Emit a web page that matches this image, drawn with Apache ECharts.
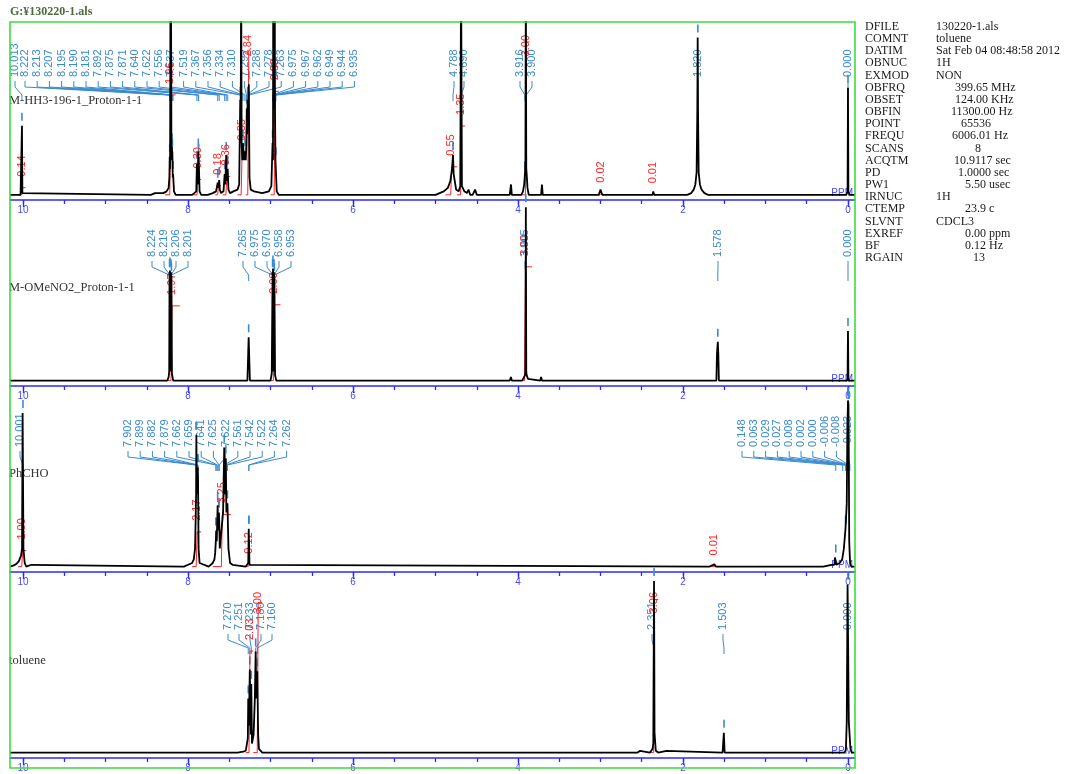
<!DOCTYPE html>
<html><head><meta charset="utf-8">
<script src="https://cdn.jsdelivr.net/npm/echarts@6/dist/echarts.min.js"></script>
<style>html,body{margin:0;padding:0;background:#fff}#c{width:1067px;height:774px}</style>
</head><body><div id="c"></div>
<script>
// ---------------- DATA ----------------
const fileTitle = 'G:¥130220-1.als';
const panelNames = ['M-HH3-196-1_Proton-1-1', 'M-OMeNO2_Proton-1-1', 'PhCHO', 'toluene'];
const majorTicks = [0, 2, 4, 6, 8, 10];
const minorTicks = [0, 0.5, 1, 1.5, 2, 2.5, 3, 3.5, 4, 4.5, 5, 5.5, 6, 6.5, 7, 7.5, 8, 8.5, 9, 9.5, 10];
const axisUnit = 'PPM';

// spectra: [ppm, relative intensity]
const spec1 = [[10.158,0],[10.03,0],[10.018,0.01],[10.013,0.40],[10.008,0.01],[9.99,0],
 [8.45,0],[8.40,0.01],[8.38,0],[8.30,0.01],[8.26,0.02],[8.235,0.04],[8.226,0.1],[8.222,0.22],[8.217,0.15],[8.213,1.3],[8.210,0.4],[8.207,1.3],[8.201,0.2],[8.195,0.28],[8.192,0.2],[8.190,0.25],[8.185,0.1],[8.181,0.12],[8.17,0.02],[8.15,0],
 [7.95,0],[7.90,0.02],[7.892,0.18],[7.885,0.06],[7.875,0.25],[7.873,0.15],[7.871,0.22],[7.86,0.02],[7.84,0],
 [7.76,0],[7.70,0.01],[7.66,0.02],[7.645,0.03],[7.640,0.07],[7.632,0.04],[7.622,0.085],[7.615,0.03],[7.60,0.01],
 [7.57,0.02],[7.556,0.12],[7.548,0.06],[7.537,0.23],[7.528,0.08],[7.519,0.15],[7.51,0.03],[7.49,0.01],[7.45,0.02],[7.40,0.03],
 [7.38,0.06],[7.367,0.55],[7.362,0.3],[7.356,1.3],[7.35,0.3],[7.342,0.2],[7.334,0.3],[7.32,0.2],[7.310,0.25],[7.30,0.2],[7.292,0.3],[7.288,0.5],[7.283,0.35],[7.278,0.55],[7.27,0.4],[7.263,0.64],[7.255,0.1],[7.24,0.03],[7.20,0.02],[7.10,0.01],[7.02,0.02],
 [6.99,0.05],[6.975,0.3],[6.97,0.2],[6.967,1.3],[6.964,0.5],[6.962,1.3],[6.955,0.5],[6.949,1.3],[6.946,0.5],[6.944,0.4],[6.94,0.2],[6.935,0.2],[6.925,0.02],[6.90,0],
 [5.55,0],[5.53,0.01],[5.51,0],[5.0,0],[4.95,0.01],[4.90,0.02],[4.85,0.04],[4.82,0.08],[4.80,0.15],[4.788,0.23],[4.78,0.12],[4.75,0.03],[4.72,0.02],[4.70,0.05],[4.690,1.3],[4.68,0.05],[4.65,0.02],[4.62,0.01],[4.60,0.03],[4.58,0],[4.55,0],[4.52,0.03],[4.50,0],
 [4.10,0],[4.085,0.06],[4.075,0],[3.96,0],[3.94,0.02],[3.925,0.06],[3.916,0.12],[3.91,0.2],[3.905,1.3],[3.90,0.15],[3.895,0.12],[3.885,0.04],[3.87,0],[3.72,0],[3.71,0.06],[3.70,0],
 [3.02,0],[3.0,0.03],[2.98,0],[2.37,0],[2.36,0.02],[2.35,0],
 [1.95,0],[1.90,0.01],[1.87,0.03],[1.85,0.06],[1.835,0.13],[1.826,0.5],[1.822,0.91],[1.818,0.5],[1.81,0.13],[1.795,0.06],[1.775,0.03],[1.74,0.01],[1.70,0],
 [0.02,0],[0.005,0.02],[0.0,0.62],[-0.005,0.02],[-0.02,0],[-0.085,0]];
const spec2 = [[10.158,0],[8.25,0],[8.235,0.02],[8.228,0.05],[8.224,0.6],[8.221,0.2],[8.219,0.61],[8.213,0.05],[8.206,0.6],[8.203,0.2],[8.201,0.58],[8.195,0.04],[8.18,0],
 [7.28,0],[7.265,0.24],[7.25,0],
 [7.0,0],[6.985,0.04],[6.975,0.6],[6.972,0.2],[6.970,0.62],[6.964,0.05],[6.958,0.6],[6.955,0.2],[6.953,0.58],[6.945,0.03],[6.93,0],
 [4.10,0],[4.085,0.02],[4.075,0],[3.95,0],[3.93,0.01],[3.915,0.03],[3.91,0.05],[3.905,0.96],[3.90,0.05],[3.895,0.03],[3.88,0.01],[3.86,0],[3.73,0],[3.72,0.02],[3.71,0],
 [1.595,0],[1.588,0.15],[1.578,0.215],[1.572,0.15],[1.565,0],
 [0.01,0],[0.005,0.02],[0.0,0.275],[-0.005,0.02],[-0.01,0],[-0.085,0]];
const spec3 = [[10.158,0],[10.12,0.005],[10.08,0.015],[10.05,0.03],[10.025,0.06],[10.012,0.1],[10.005,0.85],[10.001,0.85],[9.995,0.1],[9.98,0.02],[9.96,0],[9.9,0.01],[9.88,0],
 [8.05,0],[8.0,0.01],[7.95,0.02],[7.93,0.04],[7.915,0.1],[7.908,0.25],[7.902,0.4],[7.899,0.73],[7.895,0.5],[7.889,0.4],[7.882,0.55],[7.879,0.5],[7.872,0.1],[7.86,0.02],[7.84,0.01],
 [7.75,0],[7.70,0.02],[7.68,0.04],[7.67,0.08],[7.662,0.15],[7.659,0.2],[7.652,0.14],[7.641,0.34],[7.635,0.2],[7.625,0.3],[7.622,0.25],[7.615,0.1],[7.595,0.1],[7.575,0.3],[7.561,0.66],[7.555,0.4],[7.542,0.6],[7.535,0.3],[7.522,0.35],[7.51,0.1],[7.49,0.02],[7.46,0.01],
 [7.30,0],[7.27,0.02],[7.264,0.21],[7.262,0.21],[7.255,0.01],[7.24,0],
 [1.68,0],[1.66,0.01],[1.62,0.012],[1.60,0],
 [0.30,0],[0.20,0.01],[0.165,0.01],[0.158,0.05],[0.148,0.05],[0.14,0.01],[0.10,0.02],[0.07,0.04],[0.05,0.1],[0.03,0.21],[0.015,0.35],[0.008,0.74],[0.0,0.92],[-0.006,0.9],[-0.01,0.6],[-0.015,0.14],[-0.025,0.02],[-0.04,0],[-0.085,0]];
const spec4 = [[10.158,0],[7.40,0],[7.33,0.005],[7.30,0.01],[7.285,0.02],[7.275,0.08],[7.270,0.3],[7.262,0.15],[7.251,0.46],[7.245,0.25],[7.240,0.1],[7.233,0.38],[7.225,0.05],[7.215,0.04],[7.205,0.1],[7.19,0.3],[7.180,0.56],[7.172,0.3],[7.160,0.45],[7.15,0.1],[7.14,0.02],[7.12,0.01],[7.10,0],
 [2.55,0],[2.52,0.01],[2.50,0],[2.40,0],[2.37,0.02],[2.36,0.05],[2.357,0.37],[2.351,0.95],[2.345,0.11],[2.335,0.11],[2.33,0.01],[2.30,0],[2.20,0.01],[2.18,0],
 [1.52,0],[1.505,0.11],[1.495,0],
 [0.64,0],[0.62,0.005],[0.60,0],
 [0.04,0],[0.025,0.02],[0.015,0.17],[0.005,0.93],[-0.003,0.93],[-0.01,0.17],[-0.02,0.17],[-0.03,0.02],[-0.045,0],[-0.085,0]];

// picked peak labels, grouped as in the printout
const peaks1 = [['10.013'],
 ['8.222','8.213','8.207','8.195','8.190','8.181','7.892','7.875','7.871','7.640','7.622','7.556','7.537','7.519','7.367','7.356','7.334','7.310','7.292','7.288','7.278','7.263','6.975','6.967','6.962','6.949','6.944','6.935'],
 ['4.788','4.690'], ['3.916','3.900'], ['1.820'], ['0.000']];
const peaks2 = [['8.224','8.219','8.206','8.201'], ['7.265'], ['6.975','6.970','6.958','6.953'], ['3.905'], ['1.578'], ['0.000']];
const peaks3 = [['10.001'],
 ['7.902','7.899','7.882','7.879','7.662','7.659','7.641','7.625','7.622','7.561','7.542','7.522','7.264','7.262'],
 ['0.148','0.063','0.029','0.027','0.008','0.002','0.000','-0.006','-0.008','-0.023']];
const peaks4 = [['7.270','7.251','7.233','7.180','7.160'], ['2.351'], ['1.503'], ['0.000']];

// integrals: [from ppm, to ppm, value]
const integ1 = [[10.05,9.97,0.14],[8.28,8.15,1.96],[7.93,7.84,0.30],[7.67,7.60,0.18],[7.58,7.49,0.36],[7.40,7.30,0.85],[7.30,7.24,2.84],[7.00,6.90,2.03],[4.88,4.74,0.55],[4.74,4.64,1.35],[3.95,3.86,3.00],[3.03,2.97,0.02],[2.39,2.33,0.01]];
const integ2 = [[8.30,8.10,1.97],[7.04,6.88,2.00],[4.00,3.83,3.00]];
const integ3 = [[10.06,9.96,1.00],[7.95,7.84,2.17],[7.70,7.48,3.25],[7.30,7.23,0.12],[1.66,1.58,0.01]];
const integ4 = [[7.30,7.21,2.03],[7.21,7.10,3.00],[2.40,2.30,3.06]];

const paramKeys = ['DFILE','COMNT','DATIM','OBNUC','EXMOD','OBFRQ','OBSET','OBFIN','POINT','FREQU','SCANS','ACQTM','PD','PW1','IRNUC','CTEMP','SLVNT','EXREF','BF','RGAIN'];
const paramVals = ['130220-1.als','toluene','Sat Feb 04 08:48:58 2012','1H','NON','399.65 MHz','124.00 KHz','11300.00 Hz','65536','6006.01 Hz','8','10.9117 sec','1.0000 sec','5.50 usec','1H','23.9 c','CDCL3','0.00 ppm','0.12 Hz','13'];

// ---------------- LAYOUT / STYLE ----------------
const SPECS = [spec1, spec2, spec3, spec4];
const PEAKS = [peaks1, peaks2, peaks3, peaks4];
const INTEGS = [integ1, integ2, integ3, integ4];
const X_MIN = -0.085, X_MAX = 10.158;
const PANELS = [
 {top:22, height:178, labelBase:77, redTopMin:35, intScale:0.295, nameY:101,
  rows:[{s:15,d:0},{s:25,d:12.2},{s:454,d:10},{s:520,d:12},{s:698,d:0},{s:848,d:0}]},
 {top:200, height:186, labelBase:257, redTopMin:214, intScale:0.21, nameY:288,
  rows:[{s:152,d:12},{s:243,d:0},{s:255,d:12},{s:525,d:0},{s:718,d:0},{s:848,d:0}]},
 {top:386, height:186, labelBase:447, redTopMin:400, intScale:0.0886, nameY:474,
  rows:[{s:20,d:0},{s:128,d:12.2},{s:742,d:11.8}]},
 {top:572, height:186, labelBase:630, redTopMin:592, intScale:0.277, nameY:661,
  rows:[{s:228,d:11},{s:652,d:0},{s:723,d:0},{s:848,d:0}]}
];
const paramValX = [936,936,936,936,936,955,955,951,961,952,975,954,958,965,936,965,936,965,965,973];
const BLUE = '#3a8ad0', RED = '#ff2424', AXIS = '#2c2cf0', AXIS_LABEL = '#4e4ef0';
const LABEL_FONT = '11px "Liberation Sans"';
const SERIF = '"Liberation Serif", "DejaVu Serif", serif';

const mctx = document.createElement('canvas').getContext('2d');
mctx.font = LABEL_FONT;
const textLen = t => mctx.measureText(t).width;

const grids = [], xAxes = [], yAxes = [], series = [];
PANELS.forEach((P, i) => {
  grids.push({left:10, width:845, top:P.top, height:P.height});
  xAxes.push({type:'value', gridIndex:i, inverse:true, min:X_MIN, max:X_MAX, position:'bottom', offset:0,
    axisLine:{show:true, onZero:false, lineStyle:{color:AXIS, width:1.5}},
    axisTick:{show:true, customValues:majorTicks, length:7, lineStyle:{color:AXIS, width:1.3}},
    axisLabel:{show:true, customValues:majorTicks, margin:5, color:AXIS_LABEL, fontSize:10, fontFamily:'Liberation Sans'},
    splitLine:{show:false}});
  xAxes.push({type:'value', gridIndex:i, inverse:true, min:X_MIN, max:X_MAX, position:'bottom', offset:0,
    axisLine:{show:false, onZero:false},
    axisTick:{show:true, customValues:minorTicks, length:4, lineStyle:{color:AXIS, width:1.3}},
    axisLabel:{show:false}, splitLine:{show:false}});
  yAxes.push({type:'value', gridIndex:i, min:-0.03, max:1, show:false});

  const spec = SPECS[i], groups = PEAKS[i];
  // spectrum
  series.push({type:'line', xAxisIndex:2*i, yAxisIndex:i, data:spec, showSymbol:false, symbol:'none',
    lineStyle:{color:'#000', width:1.8}, z:5, silent:true, clip:true});
  // peak labels
  const items = [];
  groups.forEach((g, gi) => g.forEach((t, li) => items.push([parseFloat(t), gi, li])));
  series.push({type:'custom', xAxisIndex:2*i, yAxisIndex:i, z:2, silent:true, data:items,
    renderItem(params, api) {
      const ppm = api.value(0), gi = api.value(1), li = api.value(2);
      const txt = groups[gi][li], row = P.rows[gi];
      const lx = row.s + li*row.d, px = api.coord([ppm, 0])[0], b = P.labelBase;
      const ch = [
        {type:'text', x:lx, y:b, rotation:Math.PI/2,
         style:{text:txt, fill:BLUE, font:LABEL_FONT, align:'left', verticalAlign:'middle'}},
        {type:'polyline', shape:{points:[[lx,b+4],[lx,b+10],[px,b+18],[px,b+24]]},
         style:{stroke:BLUE, lineWidth:1, fill:null}}
      ];
      let top = -1;
      spec.forEach(p => { if (Math.abs(p[0]-ppm) < 0.0035 && p[1] > top) top = p[1]; });
      if (top > 0.03 && top < 0.97) {
        const ty = api.coord([ppm, top])[1];
        ch.push({type:'line', shape:{x1:px, y1:ty-13, x2:px, y2:ty-5}, style:{stroke:BLUE, lineWidth:1.6}});
      }
      return {type:'group', children:ch};
    }});
  // integrals
  series.push({type:'custom', xAxisIndex:2*i, yAxisIndex:i, z:3, silent:true, data:INTEGS[i],
    renderItem(params, api) {
      const f = api.value(0), t = api.value(1), v = api.value(2);
      const h = v*P.intScale, c = (f+t)/2, d = 0.006;
      const pts = [[f,0],[c+d,0],[c-d,h],[t,h]].map(p => { const q = api.coord(p); return [q[0], Math.max(q[1], P.top)]; });
      const txt = v.toFixed(2), len = textLen(txt);
      let bot = pts[3][1] - 11;
      if (bot - len < P.redTopMin) bot = P.redTopMin + len;
      const cx = api.coord([c, 0])[0];
      return {type:'group', children:[
        {type:'polyline', shape:{points:pts}, style:{stroke:RED, lineWidth:1, fill:null}},
        {type:'text', x:cx, y:bot, rotation:Math.PI/2,
         style:{text:txt, fill:RED, font:LABEL_FONT, align:'left', verticalAlign:'middle'}}
      ]};
    }});
});

const graphics = [];
graphics.push({type:'rect', shape:{x:10, y:22, width:845, height:746}, style:{fill:'none', stroke:'#3ddc3d', lineWidth:1.6}, z:50, silent:true});
graphics.push({type:'text', x:10, y:12, style:{text:fileTitle, font:'bold 12px ' + SERIF, fill:'#4d6b3d', align:'left', verticalAlign:'middle'}, z:50});
PANELS.forEach((P, i) => {
  graphics.push({type:'text', x:9, y:P.nameY, style:{text:panelNames[i], font:'12.5px ' + SERIF, fill:'#333', align:'left', verticalAlign:'middle'}, z:1});
  graphics.push({type:'text', x:853, y:P.top + P.height - 7, style:{text:axisUnit, font:'10px "Liberation Sans"', fill:'#4a4aff', align:'right', verticalAlign:'middle'}, z:1});
});
paramKeys.forEach((k, i) => {
  const y = 26.7 + i*12.17;
  graphics.push({type:'text', x:865, y, style:{text:k, font:'12px ' + SERIF, fill:'#1a1a1a', align:'left', verticalAlign:'middle'}, z:1});
  graphics.push({type:'text', x:paramValX[i], y, style:{text:paramVals[i], font:'12px ' + SERIF, fill:'#1a1a1a', align:'left', verticalAlign:'middle'}, z:1});
});

const chart = echarts.init(document.getElementById('c'), null, {renderer:'canvas'});
chart.setOption({animation:false, backgroundColor:'#fff', grid:grids, xAxis:xAxes, yAxis:yAxes, series, graphic:graphics});
</script></body></html>
